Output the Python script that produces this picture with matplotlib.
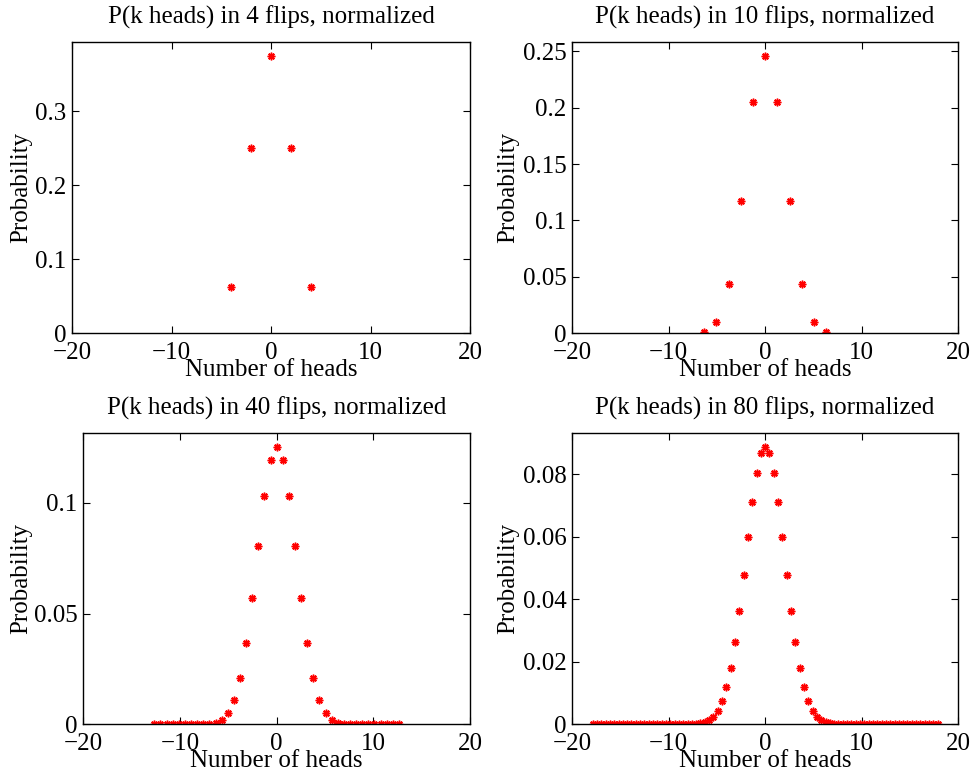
import matplotlib
matplotlib.use('Agg')
import matplotlib.pyplot as plt
from matplotlib.ticker import FuncFormatter

plt.rcParams['font.family'] = ['Liberation Serif', 'DejaVu Serif']
plt.rcParams['axes.unicode_minus'] = True

# number of flips in each panel
flips = [4, 10, 40, 80]

# normalized head count positions, centre (0) out to the right tail
x_half_4 = [0, 2, 4]
x_half_10 = [0, 1.265, 2.530, 3.795, 5.060, 6.325]
x_half_40 = [0, 0.632, 1.265, 1.897, 2.530, 3.162, 3.795, 4.427, 5.060, 5.692,
             6.325, 6.957, 7.589, 8.222, 8.854, 9.487, 10.119, 10.752, 11.384,
             12.017, 12.649]
x_half_80 = [0, 0.447, 0.894, 1.342, 1.789, 2.236, 2.683, 3.130, 3.578, 4.025,
             4.472, 4.919, 5.367, 5.814, 6.261, 6.708, 7.155, 7.603, 8.050,
             8.497, 8.944, 9.391, 9.839, 10.286, 10.733, 11.180, 11.628, 12.075,
             12.522, 12.969, 13.416, 13.864, 14.311, 14.758, 15.205, 15.652,
             16.100, 16.547, 16.994, 17.441, 17.889]

# probabilities, centre out to the right tail (distribution is symmetric)
p_half_4 = [0.375, 0.25, 0.0625]
p_half_10 = [0.2461, 0.2051, 0.1172, 0.0439, 0.0098, 0.0010]
p_half_40 = [0.12537, 0.11940, 0.10312, 0.08070, 0.05716, 0.03658, 0.02111,
             0.01094, 0.00508, 0.00210, 0.00077, 0.00025, 0.00007, 0.00002,
             0, 0, 0, 0, 0, 0, 0]
p_half_80 = [0.08893, 0.08676, 0.08056, 0.07119, 0.05987, 0.04789, 0.03644,
             0.02636, 0.01812, 0.01184, 0.00734, 0.00432, 0.00241, 0.00127,
             0.00064, 0.00030, 0.00013, 0.00006, 0.00002] + [0] * 22

x_halves = [x_half_4, x_half_10, x_half_40, x_half_80]
p_halves = [p_half_4, p_half_10, p_half_40, p_half_80]

y_ticks = [[0, 0.1, 0.2, 0.3],
           [0, 0.05, 0.1, 0.15, 0.2, 0.25],
           [0, 0.05, 0.1],
           [0, 0.02, 0.04, 0.06, 0.08]]
x_ticks = [-20, -10, 0, 10, 20]

# axes boxes in pixels: left, right, top, bottom
W, H = 974, 777
boxes = [(72, 470, 41.7, 333.3), (572.3, 958, 41.7, 333.3),
         (83.3, 470, 432.7, 724.3), (572.3, 958, 432.7, 724.3)]
ylabel_x = [32, 519, 32, 519]

fig = plt.figure(figsize=(W / 100, H / 100), dpi=100)

for i in range(4):
    l, r, t, b = boxes[i]
    ax = fig.add_axes([l / W, 1 - b / H, (r - l) / W, (b - t) / H])
    xh, ph = x_halves[i], p_halves[i]
    xs = [-v for v in xh[:0:-1]] + xh
    ps = ph[:0:-1] + ph
    ax.plot(xs, ps, linestyle='none', marker=(8, 2, 0), markersize=5.5,
            markeredgewidth=1.1, color='red')
    ax.set_xlim(-20, 20)
    ax.set_ylim(0, max(ps) * 1.05)
    ax.set_xticks(x_ticks)
    ax.set_yticks(y_ticks[i])
    ax.yaxis.set_major_formatter(FuncFormatter(lambda v, pos: '{:g}'.format(v)))
    ax.tick_params(direction='in', length=5, width=0.8, labelsize=18,
                   top=True, right=True, pad=4)
    ax.tick_params(axis='x', pad=6)
    for s in ax.spines.values():
        s.set_linewidth(1.0)
    ax.set_title('P(k heads) in %d flips, normalized' % flips[i], fontsize=18, pad=13)
    ax.set_xlabel('Number of heads', fontsize=18, labelpad=-3)
    ax.set_ylabel('Probability', fontsize=18)
    ax.yaxis.set_label_coords((ylabel_x[i] - l) / (r - l), 0.5)

fig.savefig('out.png', dpi=100)
